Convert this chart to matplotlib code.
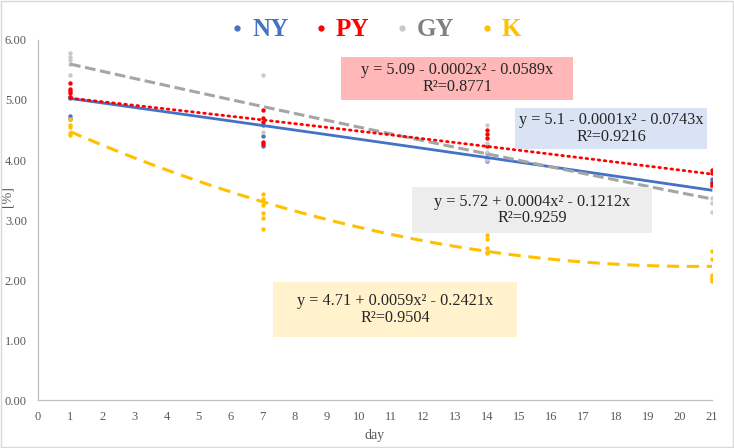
import matplotlib.pyplot as plt
import numpy as np
from matplotlib.patches import Rectangle
from matplotlib.lines import Line2D

plt.rcParams['font.family'] = ['Liberation Serif', 'DejaVu Serif']

# measured points (day, value)
ny_days = [1, 1, 1, 1, 7, 7, 7, 14, 14, 14, 21, 21, 21]
ny_vals = [5.05, 5.03, 4.73, 4.68, 4.58, 4.40, 4.24, 4.12, 4.04, 3.98, 3.69, 3.64, 3.58]

py_days = [1, 1, 1, 1, 1, 7, 7, 7, 7, 7, 14, 14, 14, 14, 21, 21, 21, 21]
py_vals = [5.28, 5.19, 5.15, 5.11, 5.05, 4.83, 4.70, 4.64, 4.30, 4.27,
           4.50, 4.43, 4.37, 4.23, 3.84, 3.79, 3.61, 3.57]

gy_days = [1, 1, 1, 1, 1, 7, 7, 14, 14, 14, 14, 21, 21, 21, 21]
gy_vals = [5.79, 5.71, 5.66, 5.60, 5.42, 5.42, 4.46, 4.58, 4.28, 4.14, 4.00,
           3.51, 3.36, 3.29, 3.14]

k_days = [1, 1, 1, 1, 1, 7, 7, 7, 7, 7, 7, 14, 14, 14, 14, 14,
          21, 21, 21, 21, 21, 21]
k_vals = [4.68, 4.58, 4.55, 4.45, 4.42, 3.43, 3.35, 3.25, 3.11, 3.03, 2.85,
          2.75, 2.68, 2.54, 2.47, 2.45, 2.49, 2.35, 2.08, 2.05, 2.02, 1.98]

# trendline coefficients (x^2, x, const) as printed on chart
ny_fit = [-0.0001, -0.0743, 5.1]
py_fit = [-0.0002, -0.0589, 5.09]
gy_fit = [0.0004, -0.1212, 5.72]
k_fit = [0.0059, -0.2421, 4.71]

ny_eq = "y = 5.1 - 0.0001x\u00b2 - 0.0743x\nR\u00b2=0.9216"
py_eq = "y = 5.09 - 0.0002x\u00b2 - 0.0589x\nR\u00b2=0.8771"
gy_eq = "y = 5.72 + 0.0004x\u00b2 - 0.1212x\nR\u00b2=0.9259"
k_eq = "y = 4.71 + 0.0059x\u00b2 - 0.2421x\nR\u00b2=0.9504"

c_ny = '#4472C4'
c_py = '#FF0000'
c_gy = '#A5A5A5'
c_k = '#FFC000'

fig = plt.figure(figsize=(7.34, 4.48), dpi=100)
ax = fig.add_axes([38/734, 48/448, (712-38)/734, 360/448])

ax.scatter(ny_days, ny_vals, s=10, color=c_ny, zorder=3, linewidths=0)
ax.scatter(py_days, py_vals, s=10, color=c_py, zorder=3, linewidths=0)
ax.scatter(gy_days, gy_vals, s=10, color='#C9C9C9', zorder=3, linewidths=0)
ax.scatter(k_days, k_vals, s=10, color=c_k, zorder=3, linewidths=0)

xs = np.linspace(1, 21, 100)
ax.plot(xs, np.polyval(ny_fit, xs), color=c_ny, lw=2.0, zorder=4)
ax.plot(xs, np.polyval(py_fit, xs), color=c_py, lw=2.0, ls=(0, (0.6, 1.6)),
        dash_capstyle='round', zorder=5)
ax.plot(xs, np.polyval(gy_fit, xs), color=c_gy, lw=2.2, ls=(0, (3.5, 1.5)), zorder=4)
ax.plot(xs, np.polyval(k_fit, xs), color=c_k, lw=2.2, ls=(0, (4, 2.5)), zorder=4)

ax.set_xlim(0, 21)
ax.set_ylim(0, 6)
ax.set_xticks(range(0, 22))
ax.set_yticks(np.arange(0, 6.01, 1))
ax.set_yticklabels([f"{v:.2f}" for v in np.arange(0, 6.01, 1)])
ax.tick_params(length=0, labelsize=9, colors='#595959', pad=8)
for s in ['top', 'right']:
    ax.spines[s].set_visible(False)
for s in ['left', 'bottom']:
    ax.spines[s].set_color('#BFBFBF')
    ax.spines[s].set_linewidth(0.9)
ax.set_xlabel('day', fontsize=10, color='#595959', labelpad=4)
ax.set_ylabel('[%]', fontsize=10, color='#595959')
ax.yaxis.set_label_coords(-24/674, 0.565)

# equation boxes (pixel boxes -> figure fraction)
def eq_box(x0, x1, y0, y1, color, text):
    fig.add_artist(Rectangle((x0/734, 1 - y1/448), (x1-x0)/734, (y1-y0)/448,
                             transform=fig.transFigure, facecolor=color,
                             edgecolor='none', zorder=6))
    fig.text((x0+x1)/2/734, 1 - (y0+y1)/2/448, text, ha='center', va='center',
             fontsize=11.7, linespacing=1.05, color='#262626', zorder=7)

eq_box(341, 573, 57, 100, '#FFB7B7', py_eq)
eq_box(515, 707, 108, 149, '#DAE3F3', ny_eq)
eq_box(412, 652, 187, 233, '#EDEDED', gy_eq)
eq_box(273, 517, 282, 337, '#FFF2CC', k_eq)

# legend
names = ['NY', 'PY', 'GY', 'K']
cols = [c_ny, c_py, '#C9C9C9', c_k]
tcols = [c_ny, c_py, '#808080', c_k]
handles = [Line2D([], [], ls='none', marker='o', ms=3.5, color=c) for c in cols]
leg = fig.legend(handles, names, loc='center', bbox_to_anchor=(0.508, 1 - 30/448),
                 ncol=4, frameon=False, handletextpad=0.1, columnspacing=0.8,
                 handlelength=1.0, prop={'size': 18, 'weight': 'bold'})
for t, c in zip(leg.get_texts(), tcols):
    t.set_color(c)

fig.add_artist(Rectangle((1.5/734, 1.5/448), 731/734, 445/448, transform=fig.transFigure,
                         facecolor='none', edgecolor='#D9D9D9', lw=1.0))

fig.savefig('out.png', dpi=100)
